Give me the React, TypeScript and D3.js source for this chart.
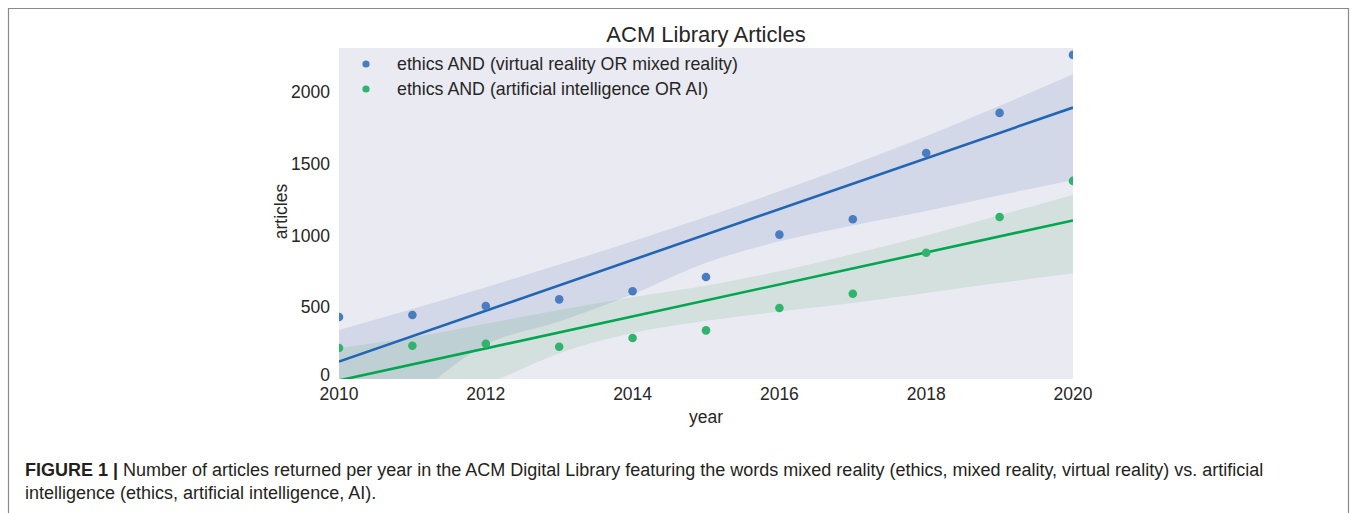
import React from 'react';
import * as d3 from 'd3';

// data
const years = [2010, 2011, 2012, 2013, 2014, 2015, 2016, 2017, 2018, 2019, 2020];
const vrArticles = [432, 446, 509, 555, 611, 711, 1006, 1113, 1575, 1854, 2258];
const aiArticles = [216, 232, 246, 225, 286, 339, 495, 594, 880, 1129, 1380];

// confidence band edges (bootstrap CI as drawn in the figure)
const vrBandLow = [-420, -120, 240, 400, 590, 810, 960, 1070, 1170, 1280, 1387];
const vrBandHigh = [341, 488, 640, 797, 959, 1128, 1308, 1495, 1692, 1904, 2123];
const aiBandLow = [-400, -220, -40, 180, 320, 405, 470, 530, 600, 670, 736];
const aiBandHigh = [216, 290, 385, 480, 570, 650, 750, 870, 1000, 1140, 1282];

const xTicks = [2010, 2012, 2014, 2016, 2018, 2020];
const yTicks = [0, 500, 1000, 1500, 2000];

const seriesNames = [
  'ethics AND (virtual reality OR mixed reality)',
  'ethics AND (artificial intelligence OR AI)',
];

const W = 1355;
const H = 513;
const margin = { top: 48, right: 282, bottom: 134, left: 339 };
const font = 'Liberation Sans, Arial, sans-serif';

// least squares fit
const fit = (xs, ys) => {
  const mx = d3.mean(xs);
  const my = d3.mean(ys);
  const sxy = d3.sum(xs, (x, i) => (x - mx) * (ys[i] - my));
  const sxx = d3.sum(xs, (x) => (x - mx) ** 2);
  const slope = sxy / sxx;
  return (x) => my + slope * (x - mx);
};

const App = () => {
  const innerW = W - margin.left - margin.right;
  const innerH = H - margin.top - margin.bottom;

  const x = d3.scaleLinear().domain([2010, 2020]).range([0, innerW]);
  const y = d3.scaleLinear().domain([0, 2306]).range([innerH, 0]);

  const series = [
    {
      name: seriesNames[0],
      values: vrArticles,
      low: vrBandLow,
      high: vrBandHigh,
      line: '#2266b3',
      dot: '#4a7cc0',
      band: '#4C72B0',
    },
    {
      name: seriesNames[1],
      values: aiArticles,
      low: aiBandLow,
      high: aiBandHigh,
      line: '#00a650',
      dot: '#2fb36d',
      band: '#55A868',
    },
  ];

  const area = d3
    .area()
    .x((d) => x(d[0]))
    .y0((d) => y(d[1]))
    .y1((d) => y(d[2]))
    .curve(d3.curveMonotoneX);

  return (
    <svg
      width={W}
      height={H}
      style={{ position: 'absolute', left: 0, top: 0, background: '#fff' }}
      fontFamily={font}
    >
      <defs>
        <clipPath id="plot-clip">
          <rect x={0} y={0} width={innerW} height={innerH} />
        </clipPath>
      </defs>

      {/* figure frame */}
      <path d={`M8.5,${H + 2} V8.5 H1348.5 V${H + 2}`} fill="none" stroke="#8a8a8a" strokeWidth={1.2} />

      <g transform={`translate(${margin.left},${margin.top})`}>
        <rect width={innerW} height={innerH} fill="#EAEAF2" />

        <g clipPath="url(#plot-clip)">
          {series.map((s) => (
            <path
              key={s.name + '-band'}
              d={area(years.map((yr, i) => [yr, s.low[i], s.high[i]]))}
              fill={s.band}
              fillOpacity={0.15}
            />
          ))}
          {series.map((s) => {
            const f = fit(years, s.values);
            return (
              <line
                key={s.name + '-fit'}
                x1={x(2010)}
                y1={y(f(2010))}
                x2={x(2020)}
                y2={y(f(2020))}
                stroke={s.line}
                strokeWidth={2.6}
              />
            );
          })}
          {series.map((s) =>
            s.values.map((v, i) => (
              <circle key={s.name + i} cx={x(years[i])} cy={y(v)} r={4.3} fill={s.dot} />
            ))
          )}
        </g>

        {/* legend */}
        {series.map((s, i) => (
          <g key={s.name + '-legend'} transform={`translate(27,${16 + i * 25})`}>
            <circle cx={0} cy={0} r={3.6} fill={s.dot} />
            <text x={31} y={0} dy="0.35em" fontSize={17.8} fill="#262626">
              {s.name}
            </text>
          </g>
        ))}

        {/* y axis labels */}
        {yTicks.map((t) => (
          <text
            key={'y' + t}
            x={-9}
            y={y(t)}
            dy={t === 0 ? '0.1em' : '0.35em'}
            textAnchor="end"
            fontSize={17.5}
            fill="#262626"
          >
            {t}
          </text>
        ))}

        {/* x axis labels */}
        {xTicks.map((t) => (
          <text
            key={'x' + t}
            x={x(t)}
            y={innerH + 15}
            dy="0.35em"
            textAnchor="middle"
            fontSize={17.5}
            fill="#262626"
          >
            {t}
          </text>
        ))}

        <text
          x={innerW / 2}
          y={innerH + 38}
          dy="0.35em"
          textAnchor="middle"
          fontSize={17.5}
          fill="#262626"
        >
          year
        </text>
        <text
          transform={`translate(-58,${innerH / 2 - 2}) rotate(-90)`}
          dy="0.35em"
          textAnchor="middle"
          fontSize={17.5}
          fill="#262626"
        >
          articles
        </text>
        <text
          x={innerW / 2}
          y={-14}
          dy="0.35em"
          textAnchor="middle"
          fontSize={22}
          fill="#262626"
        >
          ACM Library Articles
        </text>
      </g>

      {/* caption */}
      <text x={25} y={470} dy="0.35em" fontSize={18} fill="#231f20">
        <tspan fontWeight="bold">FIGURE 1 | </tspan>
        Number of articles returned per year in the ACM Digital Library featuring the words mixed reality (ethics, mixed reality, virtual reality) vs. artificial
      </text>
      <text x={25} y={493} dy="0.35em" fontSize={18} fill="#231f20">
        intelligence (ethics, artificial intelligence, AI).
      </text>
    </svg>
  );
};

export default App;
